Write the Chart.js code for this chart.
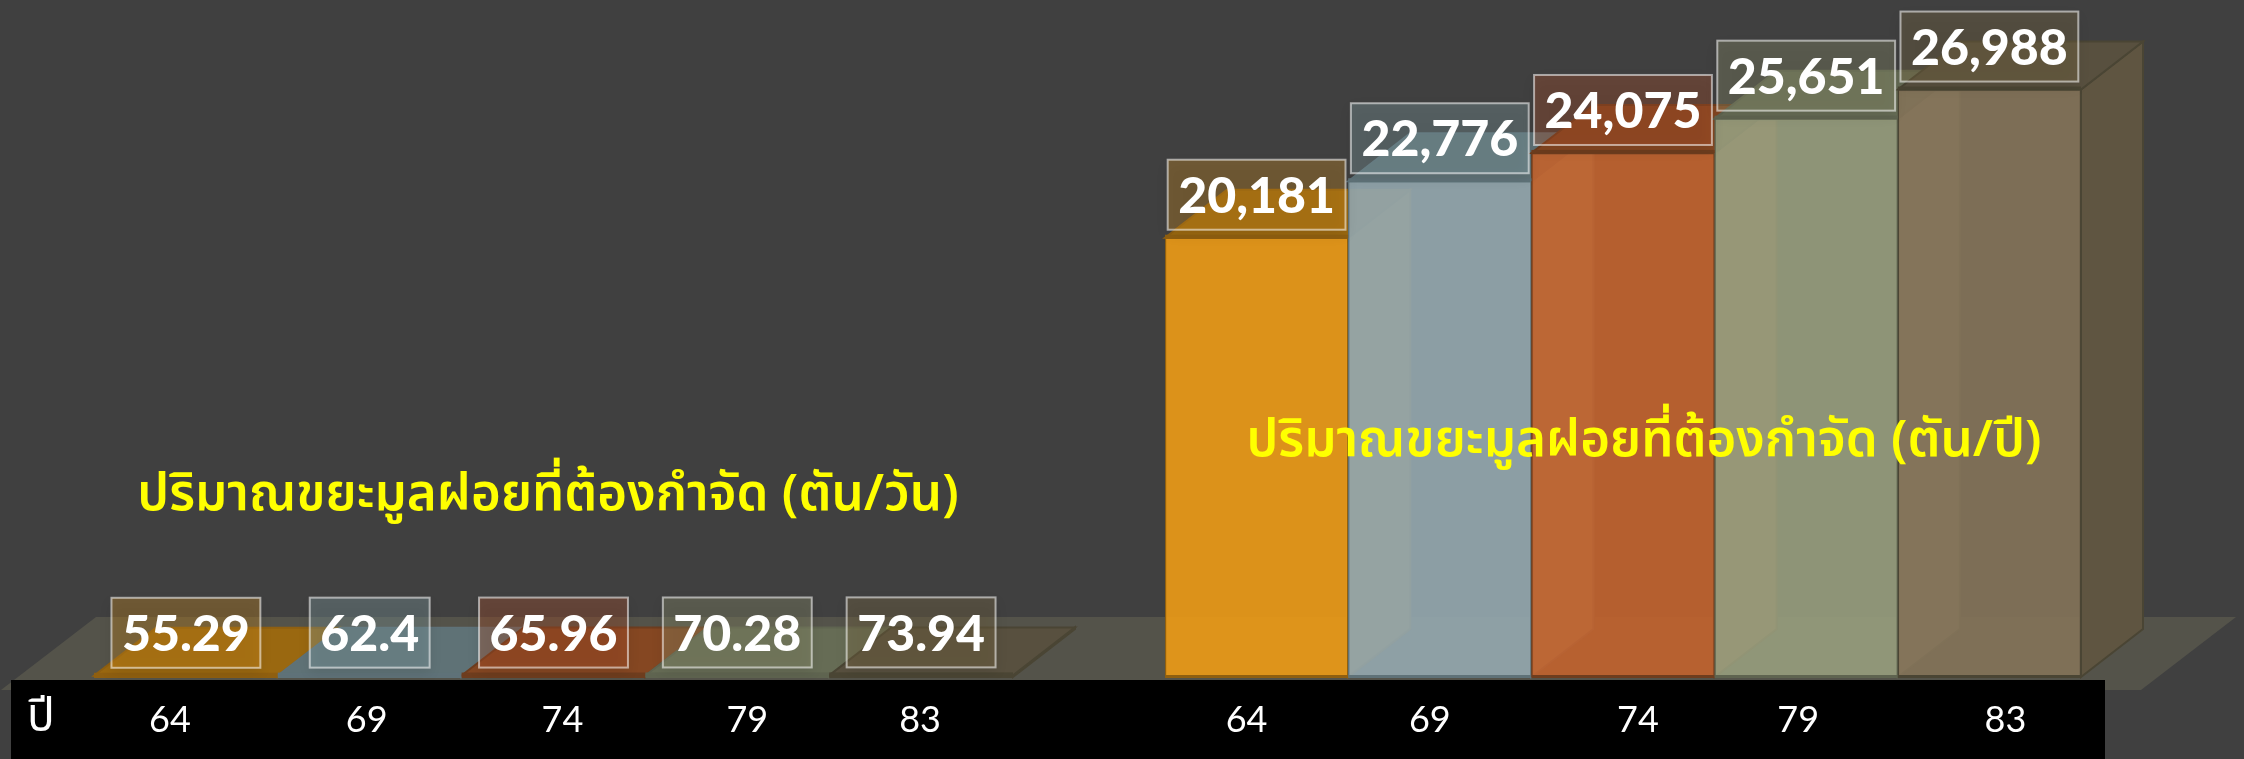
<!DOCTYPE html>
<html>
<head>
<meta charset="utf-8">
<style>
  html, body { margin: 0; padding: 0; background: #404040; overflow: hidden; }
  .wrap { position: absolute; left: 0; top: 0; width: 2244px; height: 759px; }
</style>
<script src="https://cdn.jsdelivr.net/npm/chart.js@4"></script>
</head>
<body>
<div class="wrap"><canvas id="perDayChart"></canvas></div>
<div class="wrap"><canvas id="perYearChart"></canvas></div>
<script>
// --- Data ---
const years = ['64', '69', '74', '79', '83'];
const tonsPerDay = [55.29, 62.4, 65.96, 70.28, 73.94];
const tonsPerYear = [20181, 22776, 24075, 25651, 26988];
const yearValueLabels = ['20,181', '22,776', '24,075', '25,651', '26,988'];
const dayValueLabels = ['55.29', '62.4', '65.96', '70.28', '73.94'];
const titlePerDay = 'ปริมาณขยะมูลฝอยที่ต้องกำจัด (ตัน/วัน)';
const titlePerYear = 'ปริมาณขยะมูลฝอยที่ต้องกำจัด (ตัน/ปี)';
const yearAxisName = 'ปี';

// --- Styles ---
const frontColors = ['rgba(232,153,24,0.93)', 'rgba(146,166,172,0.93)', 'rgba(190,98,46,0.93)', 'rgba(148,155,124,0.93)', 'rgba(130,114,88,0.93)'];
const topColors = ['#9a6810', '#5f7276', '#854722', '#666c55', '#58503f'];
const sideColors = ['#b07a1e', '#9aa58e', '#b5693a', '#9b9472', '#5f5541'];
const edgeColors = ['#8f5f10', '#5f7278', '#6e3d1e', '#5f6450', '#4a4534'];
const boxColors = ['rgba(222,148,29,0.3)', 'rgba(140,171,179,0.3)', 'rgba(184,84,44,0.3)', 'rgba(151,157,117,0.3)', 'rgba(131,111,71,0.3)'];
const DEPTH_X = 62;
const DEPTH_Y = 48;
const THAI_FONT = "'Noto Sans Thai', 'Noto Sans', 'Loma', 'Garuda', sans-serif";

function poly(ctx, pts, fill, stroke) {
    ctx.beginPath();
    pts.forEach((p, i) => i ? ctx.lineTo(p[0], p[1]) : ctx.moveTo(p[0], p[1]));
    ctx.closePath();
    ctx.fillStyle = fill;
    ctx.fill();
    if (stroke) {
        ctx.strokeStyle = stroke;
        ctx.lineWidth = 2;
        ctx.stroke();
    }
}

// floor + black strip, only the first chart paints them
const stagePlugin = {
    id: 'stage',
    beforeDatasetsDraw(chart, args, opts) {
        if (!opts.paint) return;
        const ctx = chart.ctx;
        poly(ctx, [[96, 617], [2236, 617], [2141, 690], [1, 690]], '#54534a');
        ctx.fillStyle = '#000';
        ctx.fillRect(11, 680, 2094, 79);
        ctx.font = '46px ' + THAI_FONT;
        ctx.fillStyle = '#fff';
        ctx.textAlign = 'center';
        ctx.textBaseline = 'alphabetic';
        ctx.fillText(yearAxisName, 41, 731);
    }
};

// sides and tops of the bars, behind the translucent fronts
const depthPlugin = {
    id: 'depth',
    beforeDatasetsDraw(chart) {
        const ctx = chart.ctx;
        chart.getDatasetMeta(0).data.forEach((bar, i) => {
            const l = bar.x - bar.width / 2, r = bar.x + bar.width / 2;
            const dx = DEPTH_X, dy = DEPTH_Y;
            poly(ctx, [[r, bar.y], [r + dx, bar.y - dy], [r + dx, bar.base - dy], [r, bar.base]], sideColors[i], edgeColors[i]);
            poly(ctx, [[l, bar.y], [l + dx, bar.y - dy], [r + dx, bar.y - dy], [r, bar.y]], topColors[i], edgeColors[i]);
        });
    }
};

// base edge, value boxes, title and year ticks
const labelPlugin = {
    id: 'labels',
    afterDatasetsDraw(chart, args, opts) {
        const ctx = chart.ctx;
        const xs = chart.scales.x;
        chart.getDatasetMeta(0).data.forEach((bar, i) => {
            const l = bar.x - bar.width / 2;
            ctx.fillStyle = edgeColors[i];
            ctx.fillRect(l, bar.base - 2, bar.width, 3);
            ctx.fillRect(l, bar.y - 3, bar.width, 3);

            ctx.font = '900 50px Lato';
            const text = opts.values[i];
            const w = ctx.measureText(text).width + 21;
            const top = bar.y - 78;
            ctx.save();
            ctx.shadowColor = 'rgba(0,0,0,0.3)';
            ctx.shadowBlur = 12;
            ctx.shadowOffsetY = 5;
            ctx.fillStyle = boxColors[i];
            ctx.fillRect(bar.x - w / 2, top, w, 70);
            ctx.restore();
            ctx.strokeStyle = 'rgba(255,255,255,0.55)';
            ctx.lineWidth = 2;
            ctx.strokeRect(bar.x - w / 2, top, w, 70);
            ctx.fillStyle = '#fff';
            ctx.textAlign = 'center';
            ctx.textBaseline = 'middle';
            ctx.fillText(text, bar.x, top + 37);
        });

        ctx.font = '36px Lato';
        ctx.fillStyle = '#fff';
        ctx.textAlign = 'center';
        ctx.textBaseline = 'alphabetic';
        xs.ticks.forEach((tick, i) => {
            ctx.fillText(tick.label, xs.getPixelForTick(i) + opts.tickShift[i], 732);
        });

        ctx.font = '600 51px ' + THAI_FONT;
        ctx.fillStyle = '#ffff00';
        ctx.fillText(opts.title, opts.titleX, opts.titleY);
    }
};

function makeChart(id, values, opts) {
    return new Chart(document.getElementById(id), {
        type: 'bar',
        data: {
            labels: years,
            datasets: [{
                data: values,
                backgroundColor: frontColors,
                borderColor: edgeColors,
                borderWidth: 1.5,
                barPercentage: 1,
                categoryPercentage: 1
            }]
        },
        options: {
            responsive: false,
            animation: false,
            devicePixelRatio: 1,
            layout: { padding: { left: opts.left, right: 2244 - opts.right, top: 24, bottom: 0 } },
            scales: {
                x: {
                    grid: { display: false },
                    border: { display: false },
                    ticks: { display: false },
                    afterFit(scale) { scale.height = 82; }
                },
                y: { display: false, min: 0, max: 30000 }
            },
            plugins: {
                legend: { display: false },
                tooltip: { enabled: false },
                stage: { paint: opts.paintStage },
                labels: {
                    values: opts.valueLabels,
                    tickShift: opts.tickShift,
                    title: opts.title,
                    titleX: opts.titleX,
                    titleY: opts.titleY
                }
            }
        },
        plugins: [stagePlugin, depthPlugin, labelPlugin]
    });
}

document.querySelectorAll('canvas').forEach(c => { c.width = 2244; c.height = 759; });

const perDayChart = makeChart('perDayChart', tonsPerDay, {
    left: 94, right: 1013, paintStage: true, valueLabels: dayValueLabels,
    tickShift: [-16, -3, 9, 10, -1], title: titlePerDay, titleX: 548, titleY: 510
});
const perYearChart = makeChart('perYearChart', tonsPerYear, {
    left: 1165, right: 2081, paintStage: false, valueLabels: yearValueLabels,
    tickShift: [-10, -10, 15, -8, 16], title: titlePerYear, titleX: 1644, titleY: 456
});
</script>
</body>
</html>
